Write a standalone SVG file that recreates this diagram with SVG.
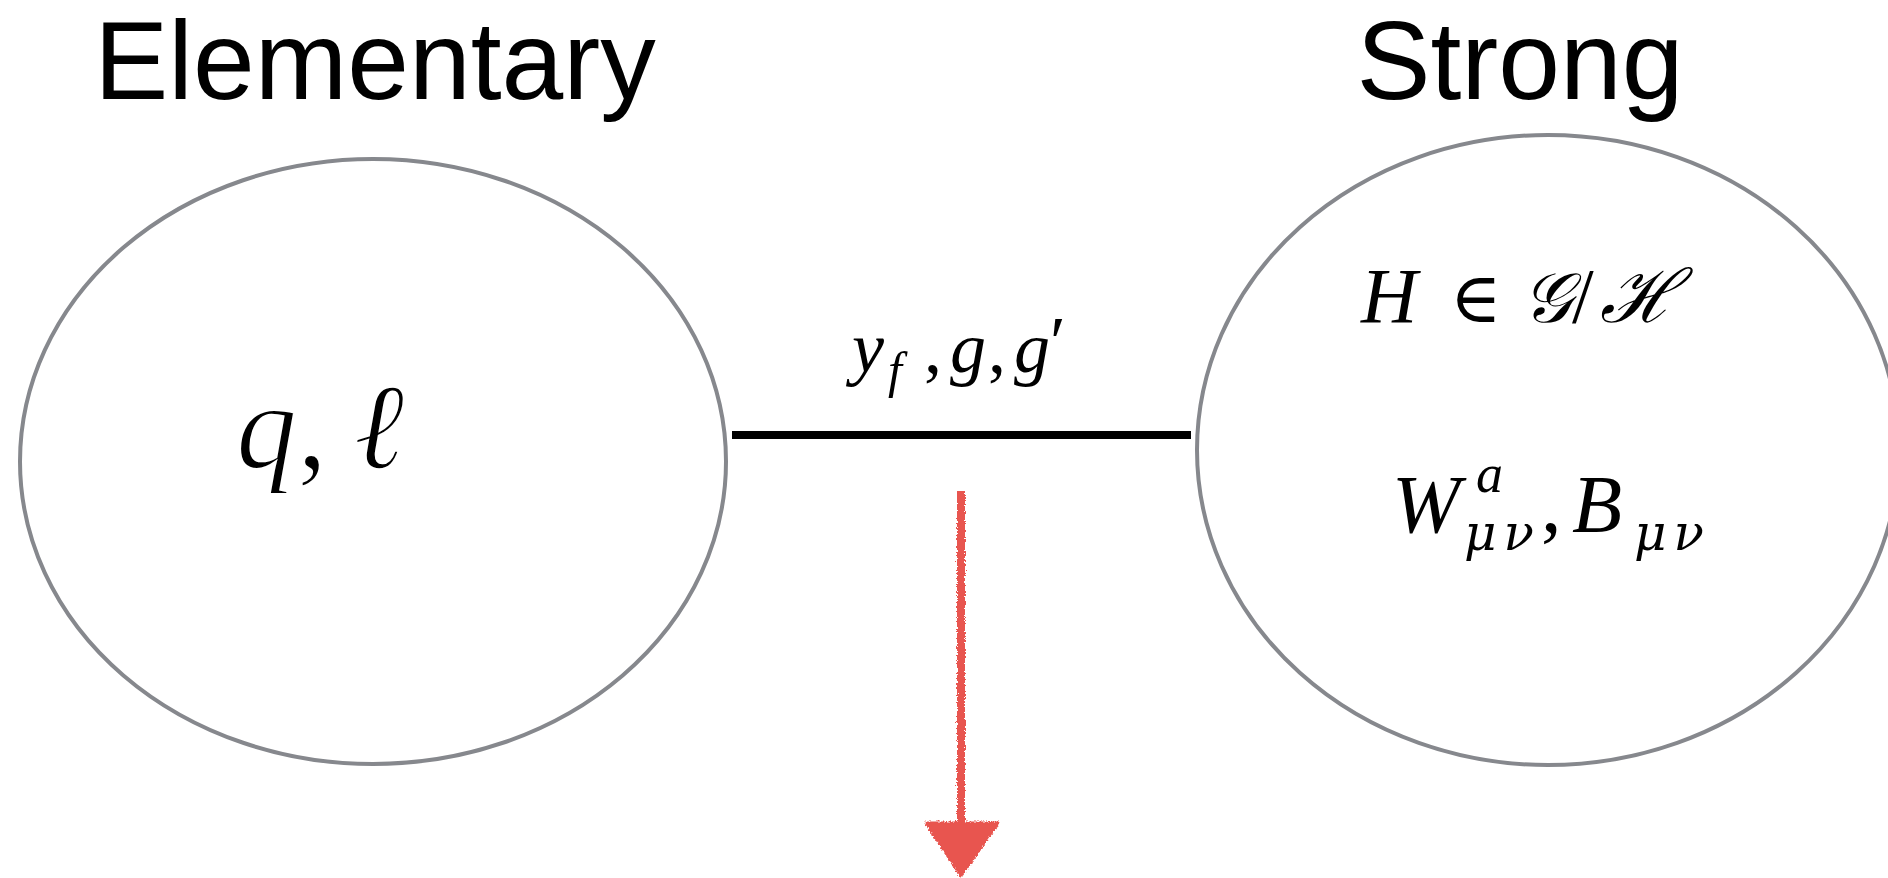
<svg xmlns="http://www.w3.org/2000/svg" width="1888" height="878" viewBox="0 0 1888 878">
<style>
.title{font-family:"Liberation Sans",Arial,sans-serif;font-size:111px;fill:#000}
.node{fill:#fff;stroke:#86888d;stroke-width:4}
.math{font-family:"Liberation Serif","DejaVu Serif",serif;font-style:italic;fill:#000}
.greek{font-family:"DejaVu Serif","Liberation Serif",serif;font-style:italic;fill:#000}
.up{font-style:normal}
.thin{stroke:#fff;stroke-width:2}
</style>
<defs>
<filter id="crayon" x="-20%" y="-5%" width="140%" height="110%">
<feTurbulence type="fractalNoise" baseFrequency="0.6" numOctaves="2" seed="3" result="n"/>
<feDisplacementMap in="SourceGraphic" in2="n" scale="5" xChannelSelector="R" yChannelSelector="G"/>
</filter>
</defs>
<rect width="1888" height="878" fill="#fff"/>
<g id="elementary">
<text class="title" x="375" y="99" text-anchor="middle">Elementary</text>
<ellipse class="node" cx="373" cy="461.5" rx="353" ry="302.5"/>
<text class="math thin" x="236" y="468" font-size="122">q<tspan class="up">,</tspan><tspan dx="26">ℓ</tspan></text>
</g>
<g id="strong">
<text class="title" x="1520" y="99" text-anchor="middle">Strong</text>
<ellipse class="node" cx="1548" cy="450" rx="351" ry="315"/>
<text class="math" x="1361" y="322" font-size="78">H</text>
<text class="math up" x="1450" y="322" font-size="70">∈</text>
<text class="math" x="1522" y="322" font-size="70">𝒢</text>
<text class="math up" x="1572" y="322" font-size="78">/</text>
<text class="math" x="1600" y="322" font-size="74">ℋ</text>
<text class="math" x="1392" y="532" font-size="82">W</text>
<text class="math" x="1476" y="492" font-size="54">a</text>
<text class="greek" x="1464" y="550" font-size="50" textLength="70">μν</text>
<text class="math up" x="1541" y="532" font-size="82">,</text>
<text class="math" x="1572" y="532" font-size="82">B</text>
<text class="greek" x="1634" y="550" font-size="50" textLength="70">μν</text>
</g>
<g id="connectors">
<line x1="732" y1="435" x2="1191" y2="435" stroke="#000" stroke-width="8"/>
<text class="math" y="372" font-size="72"><tspan x="852">y</tspan><tspan x="888" y="387" font-size="50">f</tspan><tspan class="up" x="924" y="372">,</tspan><tspan x="950">g</tspan><tspan class="up" x="988">,</tspan><tspan x="1014">g</tspan><tspan class="up" x="1050" y="366">′</tspan></text>
<g id="red-arrow" fill="#e8554f" stroke="#e8554f" filter="url(#crayon)">
<line x1="961" y1="491" x2="961" y2="828" stroke-width="8"/>
<polygon points="926,823 998,823 961,876" stroke-width="3" stroke-linejoin="round"/>
</g>
</g>
</svg>
